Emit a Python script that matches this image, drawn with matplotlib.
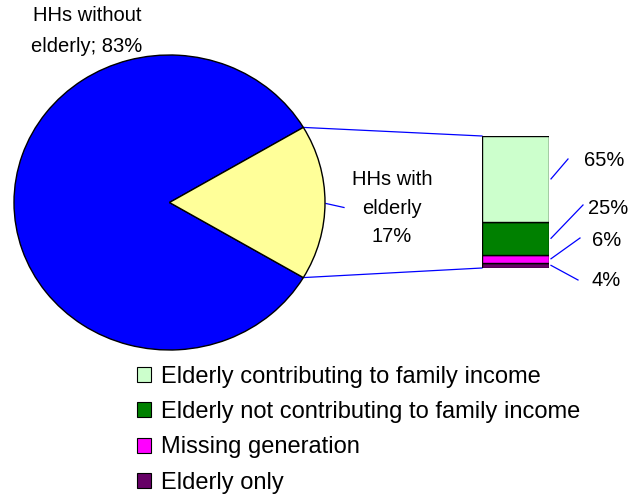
import numpy as np
import matplotlib
matplotlib.use("Agg")
import matplotlib.pyplot as plt
from matplotlib.patches import Patch

plt.rcParams['font.family'] = ['Liberation Sans', 'DejaVu Sans']

# pie data
pie_labels = ["HHs without\nelderly; 83%", "HHs with\nelderly\n17%"]
pie_vals = [83, 17]
pie_colors = ["#0000FF", "#FFFF99"]

# breakdown of HHs with elderly (bottom to top in the bar)
bar_labels = ["Elderly only", "Missing generation",
              "Elderly not contributing to family income",
              "Elderly contributing to family income"]
bar_vals = [4, 6, 25, 65]
bar_colors = ["#660066", "#FF00FF", "#008000", "#CCFFCC"]

W, H = 632, 494
fig = plt.figure(figsize=(W / 100, H / 100), dpi=100)


def box(x0, y0, x1, y1):
    # pixel box (top-left origin) -> figure fraction rect
    return [x0 / W, 1 - y1 / H, (x1 - x0) / W, (y1 - y0) / H]


# pie (slightly elliptical, like the original)
pie_box = (14, 55, 325, 350)
axp = fig.add_axes(box(*pie_box))
half = 360 * pie_vals[1] / 100 / 2
axp.pie(pie_vals, colors=pie_colors, startangle=half, counterclock=True,
        wedgeprops=dict(edgecolor="black", linewidth=1))
axp.set_aspect("auto")
axp.set_xlim(-1, 1)
axp.set_ylim(-1, 1)
axp.axis("off")

# stacked bar
bar_box = (482, 136, 549, 268)
axb = fig.add_axes(box(*bar_box))
bottoms = np.concatenate([[0], np.cumsum(bar_vals)[:-1]])
axb.bar(0, bar_vals, bottom=bottoms, width=1, color=bar_colors,
        edgecolor="black", linewidth=1)
axb.set_xlim(-0.5, 0.5)
axb.set_ylim(0, 100)
axb.axis("off")

# overlay in pixel coords for connectors and labels
ax = fig.add_axes([0, 0, 1, 1], zorder=-1)
ax.set_xlim(0, W)
ax.set_ylim(H, 0)
ax.axis("off")

cx = (pie_box[0] + pie_box[2]) / 2
cy = (pie_box[1] + pie_box[3]) / 2
rx = (pie_box[2] - pie_box[0]) / 2
ry = (pie_box[3] - pie_box[1]) / 2
a = np.radians(half)
px = cx + rx * np.cos(a)
ax.plot([px, bar_box[0]], [cy - ry * np.sin(a), bar_box[1]], color="#0000FF", lw=0.9)
ax.plot([px, bar_box[0]], [cy + ry * np.sin(a), bar_box[3]], color="#0000FF", lw=0.9)

fs = 14.5
ax.text(87, 31, pie_labels[0], ha="center", va="center", fontsize=fs,
        linespacing=1.8)
ax.plot([cx + rx + 1, 344], [cy + 1, cy + 5], color="#0000FF", lw=0.9)
ax.text(392, 208, pie_labels[1], ha="center", va="center", fontsize=fs,
        linespacing=1.65)

# bar value labels with leader lines
scale = (bar_box[3] - bar_box[1]) / 100
label_pos = [(606, 280, 578, 280), (607, 240, 580, 238),
             (608, 208, 583, 205), (604, 160, 568, 159)]
for v, b, (tx, ty, lx, ly) in zip(bar_vals, bottoms, label_pos):
    my = bar_box[3] - (b + v / 2) * scale
    ax.plot([bar_box[2] + 2, lx], [my, ly], color="#0000FF", lw=0.9)
    ax.text(tx, ty, f"{v}%", ha="center", va="center", fontsize=fs)

handles = [Patch(facecolor=c, edgecolor="black", linewidth=0.8)
           for c in bar_colors[::-1]]
fig.legend(handles, bar_labels[::-1], loc="upper left",
           bbox_to_anchor=(137 / W, 1 - 366 / H), frameon=False,
           fontsize=17, handlelength=0.6, handleheight=0.6,
           handletextpad=0.4, labelspacing=0.56, borderpad=0,
           borderaxespad=0)

fig.savefig("out.png", dpi=100)
